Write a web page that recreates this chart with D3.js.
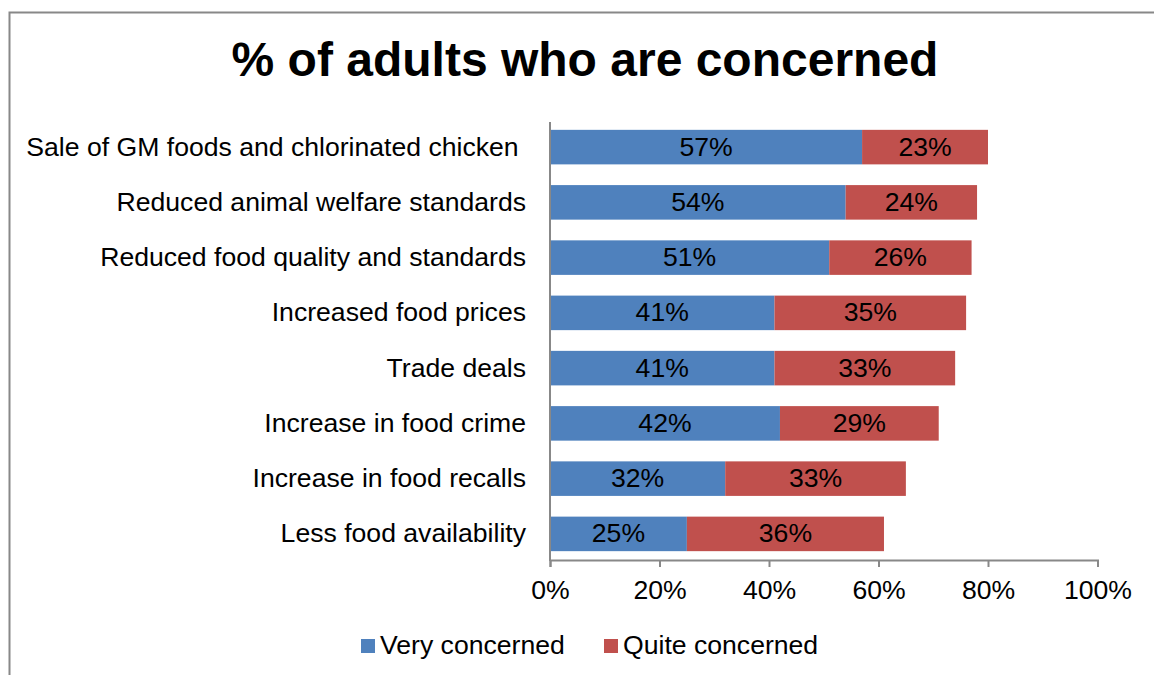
<!DOCTYPE html>
<html><head><meta charset="utf-8">
<script src="https://cdn.jsdelivr.net/npm/d3@7"></script>
<style>body{margin:0;background:#fff;}svg{display:block;font-family:"Liberation Sans",Arial,sans-serif;}</style>
</head><body>
<svg id="c" width="1154" height="675"></svg>
<script>
const categories = ["Sale of GM foods and chlorinated chicken ","Reduced animal welfare standards","Reduced food quality and standards","Increased food prices","Trade deals","Increase in food crime","Increase in food recalls","Less food availability"];
const veryConcerned = [57,54,51,41,41,42,32,25];
const quiteConcerned = [23,24,26,35,33,29,33,36];
const seriesNames = ["Very concerned","Quite concerned"];
const seriesColors = ["#4F81BD","#C0504D"];
const xTicks = [0,20,40,60,80,100];

const FS = 26.6;
const svg = d3.select("#c");
// outer border
svg.append("path").attr("d","M9.5,675 V12.5 H1154").attr("fill","none").attr("stroke","#888").attr("stroke-width",2);

svg.append("text").attr("x",585).attr("y",76).attr("text-anchor","middle")
  .attr("font-size",48).attr("font-weight","bold").text("% of adults who are concerned");

const x = d3.scaleLinear().domain([0,100]).range([550,1097.5]);
const y = d3.scaleBand().domain(categories).range([121,560]).paddingInner(0.375).paddingOuter(0.16);

const rows = categories.map((c,i)=>({c, v:[veryConcerned[i], quiteConcerned[i]]}));
rows.forEach(r=>{
  let start=0;
  const cy = y(r.c)+y.bandwidth()/2;
  r.v.forEach((val,k)=>{
    svg.append("rect").attr("x",x(start)).attr("y",y(r.c)).attr("width",x(start+val)-x(start))
      .attr("height",y.bandwidth()).attr("fill",seriesColors[k]);
    svg.append("text").attr("x",(x(start)+x(start+val))/2).attr("y",cy+8.5)
      .attr("text-anchor","middle").attr("font-size",FS).attr("fill","#000").text(val+"%");
    start+=val;
  });
  svg.append("text").attr("x",526).attr("y",cy+8.5).attr("text-anchor","end")
    .attr("font-size",FS).attr("fill","#000").attr("xml:space","preserve").text(r.c);
});

// axes
const xa = svg.append("g").attr("transform","translate(0,560)")
  .call(d3.axisBottom(x).tickValues(xTicks).tickFormat(d=>d+"%").tickSizeOuter(0).tickSize(7).tickPadding(13));
xa.select(".domain").attr("stroke","#888").attr("stroke-width",2);
xa.selectAll(".tick line").attr("stroke","#888").attr("stroke-width",2);
xa.selectAll(".tick text").attr("font-size",FS).attr("fill","#000").attr("font-family","Liberation Sans, Arial, sans-serif");
svg.append("line").attr("x1",550).attr("x2",550).attr("y1",122).attr("y2",561).attr("stroke","#888").attr("stroke-width",2);

// legend
const legX=[361,604];
seriesNames.forEach((n,k)=>{
  svg.append("rect").attr("x",legX[k]).attr("y",639).attr("width",14).attr("height",14).attr("fill",seriesColors[k]);
  svg.append("text").attr("x",legX[k]+19).attr("y",654).attr("font-size",FS).attr("fill","#000").text(n);
});
</script>
</body></html>
